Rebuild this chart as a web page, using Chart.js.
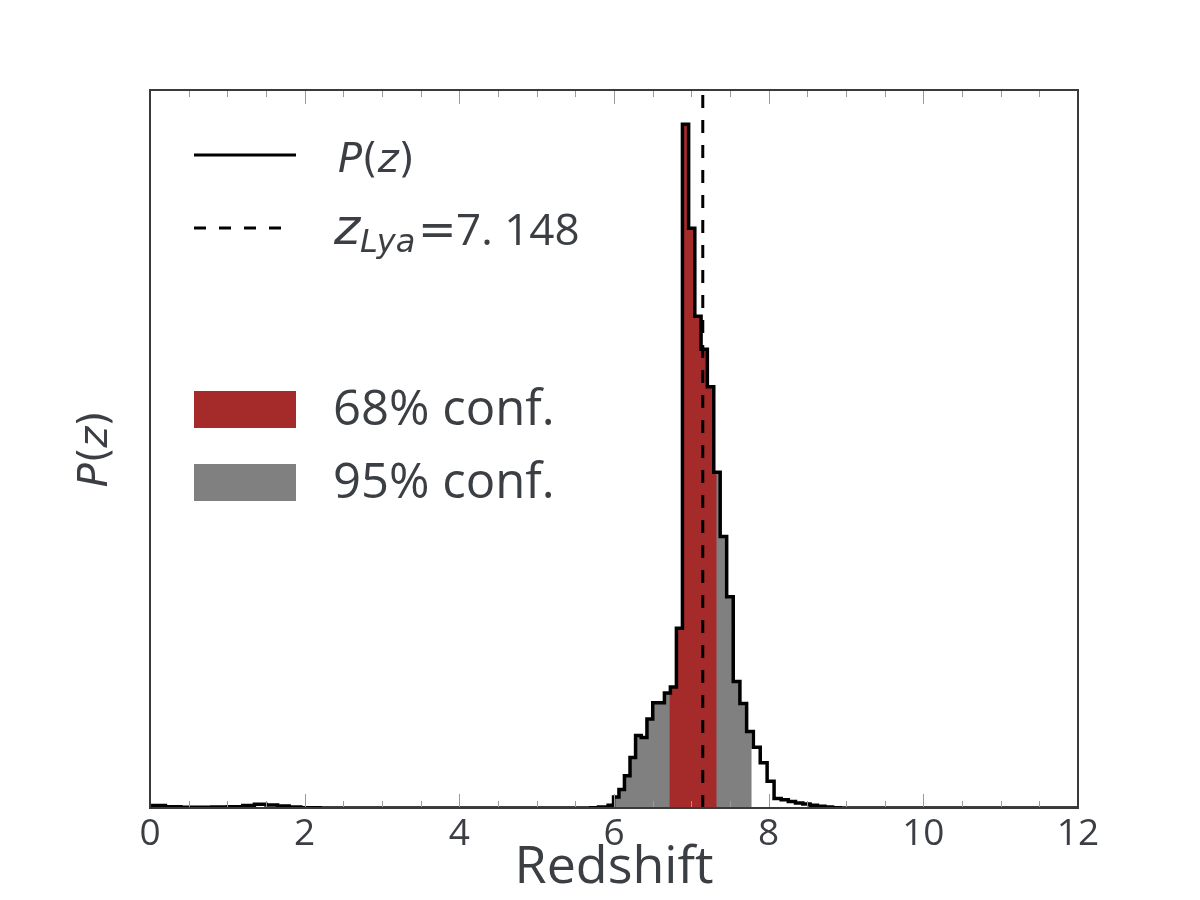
<!DOCTYPE html>
<html>
<head>
<meta charset="utf-8">
<script src="https://cdn.jsdelivr.net/npm/chart.js@4.4.0/dist/chart.umd.min.js"></script>
<style>
  html, body { margin: 0; padding: 0; background: #fff; }
  canvas { display: block; }
</style>
</head>
<body>
<canvas id="pz-chart" width="1200" height="900"></canvas>
<script>
// histogram bins of P(z) around the peak (edges in z, one height per bin)
const binEdges = [5.924, 5.994, 6.064, 6.135, 6.207, 6.279, 6.352, 6.426, 6.501, 6.576,
                  6.652, 6.729, 6.807, 6.885, 6.965, 7.045, 7.126, 7.207, 7.290, 7.373,
                  7.457, 7.542, 7.628, 7.715, 7.802, 7.891, 7.980, 8.070, 8.162, 8.254,
                  8.347, 8.441, 8.536, 8.631, 8.728, 8.826, 8.925];
const binHeights = [0.004, 0.016, 0.027, 0.047, 0.074, 0.106, 0.103, 0.130, 0.154, 0.154,
                    0.168, 0.177, 0.263, 1.000, 0.848, 0.719, 0.671, 0.616, 0.491, 0.397,
                    0.309, 0.185, 0.153, 0.112, 0.089, 0.066, 0.039, 0.014, 0.012, 0.0095,
                    0.0073, 0.0058, 0.0041, 0.0026, 0.0015, 0.0004];

// low-redshift tail (almost flat, small bump near z~1.4)
const tailZ = [0, 0.2, 0.4, 0.6, 0.8, 1.0, 1.2, 1.35, 1.5, 1.65, 1.8, 1.95, 2.2, 5.7, 5.8];
const tailP = [0.0037, 0.002, 0.001, 0.001, 0.0015, 0.002, 0.0035, 0.0055, 0.0045, 0.003, 0.0015, 0.0005, 0, 0.0005, 0.0015];

const conf68 = [6.716, 7.328];
const conf95 = [6.003, 7.781];
const zLya = 7.148;

const xTicks = [0, 2, 4, 6, 8, 10, 12];
const minorStep = 0.5;
const yMax = 1.05;

const textColor = '#3b3f43';
const spineColor = '#3a3a3a';
const tickColor = '#9a9a9a';
const redColor = '#a52a2a';
const grayColor = '#808080';

function stepValueAt(z) {
    for (let i = 0; i < binHeights.length; i++) {
        if (z >= binEdges[i] && z < binEdges[i + 1]) return binHeights[i];
    }
    return 0;
}

function bandPoints(lo, hi) {
    const pts = [{ x: lo, y: stepValueAt(lo) }];
    binEdges.forEach(e => {
        if (e > lo && e < hi) pts.push({ x: e, y: stepValueAt(e) });
    });
    pts.push({ x: hi, y: 0 });
    return pts;
}

// each point's value holds until the next point ("before" stepping in Chart.js)
const outlinePoints = tailZ.map((z, i) => ({ x: z, y: tailP[i] }))
    .concat(binHeights.map((h, i) => ({ x: binEdges[i], y: h })))
    .concat([{ x: binEdges[binEdges.length - 1], y: 0 }, { x: 12, y: 0 }]);

const decorations = {
    id: 'decorations',
    afterDraw(chart) {
        const { ctx, chartArea: a, scales: { x } } = chart;
        ctx.save();

        // inward ticks on bottom and top
        ctx.strokeStyle = tickColor;
        ctx.lineWidth = 1;
        ctx.beginPath();
        for (let v = minorStep; v < 12; v += minorStep) {
            const px = Math.round(x.getPixelForValue(v)) + 0.5;
            const len = xTicks.includes(v) ? 14 : 7;
            ctx.moveTo(px, a.bottom);
            ctx.lineTo(px, a.bottom - len);
            ctx.moveTo(px, a.top);
            ctx.lineTo(px, a.top + len);
        }
        ctx.stroke();

        // frame
        ctx.strokeStyle = spineColor;
        ctx.lineWidth = 2;
        ctx.strokeRect(a.left, a.top, a.right - a.left, a.bottom - a.top);

        // y axis label P(z)
        ctx.fillStyle = textColor;
        ctx.textBaseline = 'alphabetic';
        ctx.textAlign = 'left';
        const parts = [['P', true], ['(', false], ['z', true], [')', false]];
        const fontFor = (it, size) => (it ? 'italic ' : '') + size + 'px "DejaVu Sans"';
        ctx.save();
        ctx.translate(107, (a.top + a.bottom) / 2);
        ctx.rotate(-Math.PI / 2);
        let total = 0;
        parts.forEach(([t, it]) => { ctx.font = fontFor(it, 40); total += ctx.measureText(t).width; });
        let cx = -total / 2;
        parts.forEach(([t, it]) => { ctx.font = fontFor(it, 40); ctx.fillText(t, cx, 0); cx += ctx.measureText(t).width; });
        ctx.restore();

        // legend: line samples
        ctx.strokeStyle = '#000';
        ctx.lineWidth = 3;
        ctx.beginPath();
        ctx.moveTo(194, 155);
        ctx.lineTo(296, 155);
        ctx.stroke();
        ctx.setLineDash([12, 13]);
        ctx.beginPath();
        ctx.moveTo(194, 228);
        ctx.lineTo(282, 228);
        ctx.stroke();
        ctx.setLineDash([]);

        // legend: P(z)
        cx = 338;
        parts.forEach(([t, it]) => { ctx.font = fontFor(it, 40); ctx.fillText(t, cx, 172); cx += ctx.measureText(t).width; });

        // legend: z_Lya = 7.148
        ctx.font = 'italic 50px "DejaVu Sans"';
        ctx.fillText('z', 334, 244);
        ctx.font = 'italic 32px "DejaVu Sans"';
        ctx.fillText('Lya', 360, 252);
        ctx.font = '46px "DejaVu Sans"';
        ctx.fillText('=', 418, 245);
        ctx.font = '44px "Open Sans"';
        ctx.fillText('7. 148', 456, 245);

        // legend: confidence patches
        ctx.fillStyle = redColor;
        ctx.fillRect(194, 391, 102, 37);
        ctx.fillStyle = grayColor;
        ctx.fillRect(194, 464, 102, 37);
        ctx.fillStyle = textColor;
        ctx.font = '49px "Open Sans"';
        ctx.fillText('68% conf.', 333, 425);
        ctx.fillText('95% conf.', 333, 498);

        ctx.restore();
    }
};

const ctx = document.getElementById('pz-chart').getContext('2d');
new Chart(ctx, {
    type: 'line',
    data: {
        datasets: [
            {
                label: 'zLya',
                data: [{ x: zLya, y: 0 }, { x: zLya, y: yMax }],
                borderColor: '#000',
                borderWidth: 3,
                borderDash: [13, 12],
                pointRadius: 0,
                fill: false,
                order: 0
            },
            {
                label: 'P(z)',
                data: outlinePoints,
                stepped: 'before',
                borderColor: '#000',
                borderWidth: 3.5,
                borderJoinStyle: 'miter',
                pointRadius: 0,
                fill: false,
                order: 1
            },
            {
                label: '68% conf.',
                data: bandPoints(conf68[0], conf68[1]),
                stepped: 'before',
                borderColor: 'rgba(0,0,0,0)',
                borderWidth: 0,
                backgroundColor: redColor,
                pointRadius: 0,
                fill: 'origin',
                order: 2
            },
            {
                label: '95% conf.',
                data: bandPoints(conf95[0], conf95[1]),
                stepped: 'before',
                borderColor: 'rgba(0,0,0,0)',
                borderWidth: 0,
                backgroundColor: grayColor,
                pointRadius: 0,
                fill: 'origin',
                order: 3
            }
        ]
    },
    options: {
        responsive: false,
        animation: false,
        layout: { padding: { top: 90, right: 122, left: 0, bottom: 0 } },
        plugins: {
            legend: { display: false },
            tooltip: { enabled: false }
        },
        scales: {
            x: {
                type: 'linear',
                min: 0,
                max: 12,
                afterFit(scale) { scale.height = 92; },
                afterBuildTicks(scale) { scale.ticks = xTicks.map(v => ({ value: v })); },
                grid: { display: false, drawTicks: false },
                border: { display: false },
                ticks: {
                    color: textColor,
                    padding: 4,
                    maxRotation: 0,
                    autoSkip: false,
                    font: { family: 'Open Sans', size: 37 }
                },
                title: {
                    display: true,
                    text: 'Redshift',
                    color: textColor,
                    font: { family: 'Open Sans', size: 52 },
                    padding: { top: 0, bottom: 1 }
                }
            },
            y: {
                min: 0,
                max: yMax,
                afterFit(scale) { scale.width = 150; },
                grid: { display: false, drawTicks: false },
                border: { display: false },
                ticks: { display: false }
            }
        }
    },
    plugins: [decorations]
});
</script>
</body>
</html>
